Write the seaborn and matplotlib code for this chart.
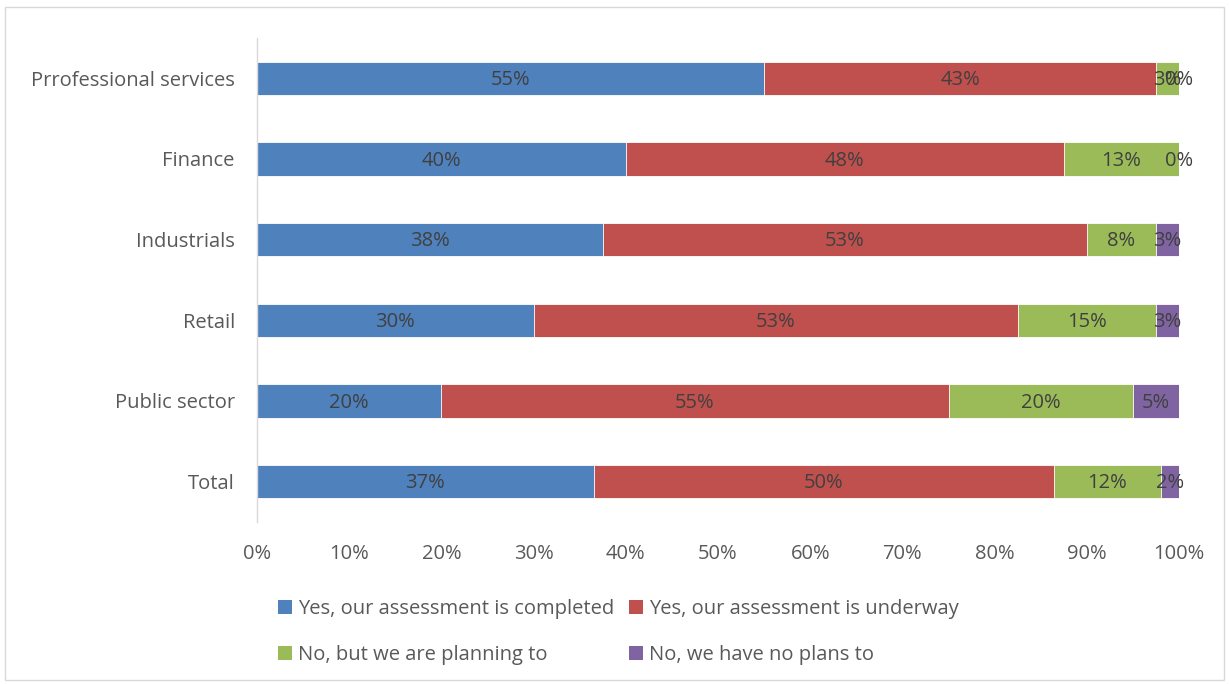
import numpy as np
import pandas as pd
import matplotlib
matplotlib.use("Agg")
import matplotlib.pyplot as plt
from matplotlib.patches import Patch, Rectangle
import seaborn as sns

categories = ["Prrofessional services", "Finance", "Industrials", "Retail", "Public sector", "Total"]
series_names = [
    "Yes, our assessment is completed",
    "Yes, our assessment is underway",
    "No, but we are planning to",
    "No, we have no plans to",
]
completed = [55.0, 40.0, 37.5, 30.0, 20.0, 36.5]
underway = [42.5, 47.5, 52.5, 52.5, 55.0, 49.9]
planning = [2.5, 12.5, 7.5, 15.0, 20.0, 11.6]
no_plans = [0.0, 0.0, 2.5, 2.5, 5.0, 2.0]
colors = ["#4F81BD", "#C0504D", "#9BBB59", "#8064A2"]
x_ticks = [0, 10, 20, 30, 40, 50, 60, 70, 80, 90, 100]

sns.set_theme(style="white")
plt.rcParams["font.family"] = ["Open Sans", "DejaVu Sans"]
FS = 14.5

series = [completed, underway, planning, no_plans]
df = pd.DataFrame({"category": categories})
for name, vals in zip(series_names, series):
    df[name] = vals
cum = df[series_names].cumsum(axis=1)

fig = plt.figure(figsize=(12.29, 6.84), dpi=100)
ax = fig.add_axes([257 / 1229, 1 - 522 / 684, 922 / 1229, 484 / 684])

# stacked bars: draw cumulative totals from the outermost segment inward
for name, col in reversed(list(zip(series_names, colors))):
    sns.barplot(data=cum.assign(category=categories), x=name, y="category",
                color=col, saturation=1, width=0.41, orient="h",
                edgecolor="white", linewidth=0.6, ax=ax)


def pct_label(v):
    return f"{int(np.floor(v + 0.5))}%"


for i, cat in enumerate(categories):
    left = 0.0
    for name in series_names:
        v = df.loc[i, name]
        ax.text(left + v / 2, i + 0.02, pct_label(v), ha="center", va="center",
                fontsize=FS, color="#404040")
        left += v

ax.set_xlim(0, 100)
ax.set_ylim(len(categories) - 0.5, -0.5)
ax.set_xticks(x_ticks)
ax.set_xticklabels([f"{t}%" for t in x_ticks])
ax.set_xlabel("")
ax.set_ylabel("")
for s in ["top", "right", "bottom"]:
    ax.spines[s].set_visible(False)
ax.spines["left"].set_color("#D9D9D9")
ax.spines["left"].set_linewidth(1)
ax.tick_params(axis="both", length=0, labelsize=FS, colors="#595959")
ax.tick_params(axis="x", pad=16)
ax.tick_params(axis="y", pad=16)

# legend filled column-first, so interleave to read row by row
order = [0, 2, 1, 3]
handles = [Patch(facecolor=colors[k], edgecolor="none") for k in order]
labels = [series_names[k] for k in order]
fig.legend(handles, labels, loc="upper left", bbox_to_anchor=(270 / 1229, 1 - 591 / 684),
           ncol=2, frameon=False, fontsize=FS, labelcolor="#595959",
           handlelength=0.7, handleheight=0.7, handletextpad=0.3,
           columnspacing=0.7, labelspacing=1.3, borderaxespad=0)

fig.patches.append(Rectangle((5 / 1229, 4 / 684), 1219 / 1229, 673 / 684,
                             transform=fig.transFigure, fill=False,
                             edgecolor="#D9D9D9", linewidth=1))

fig.savefig("out.png", dpi=100)
